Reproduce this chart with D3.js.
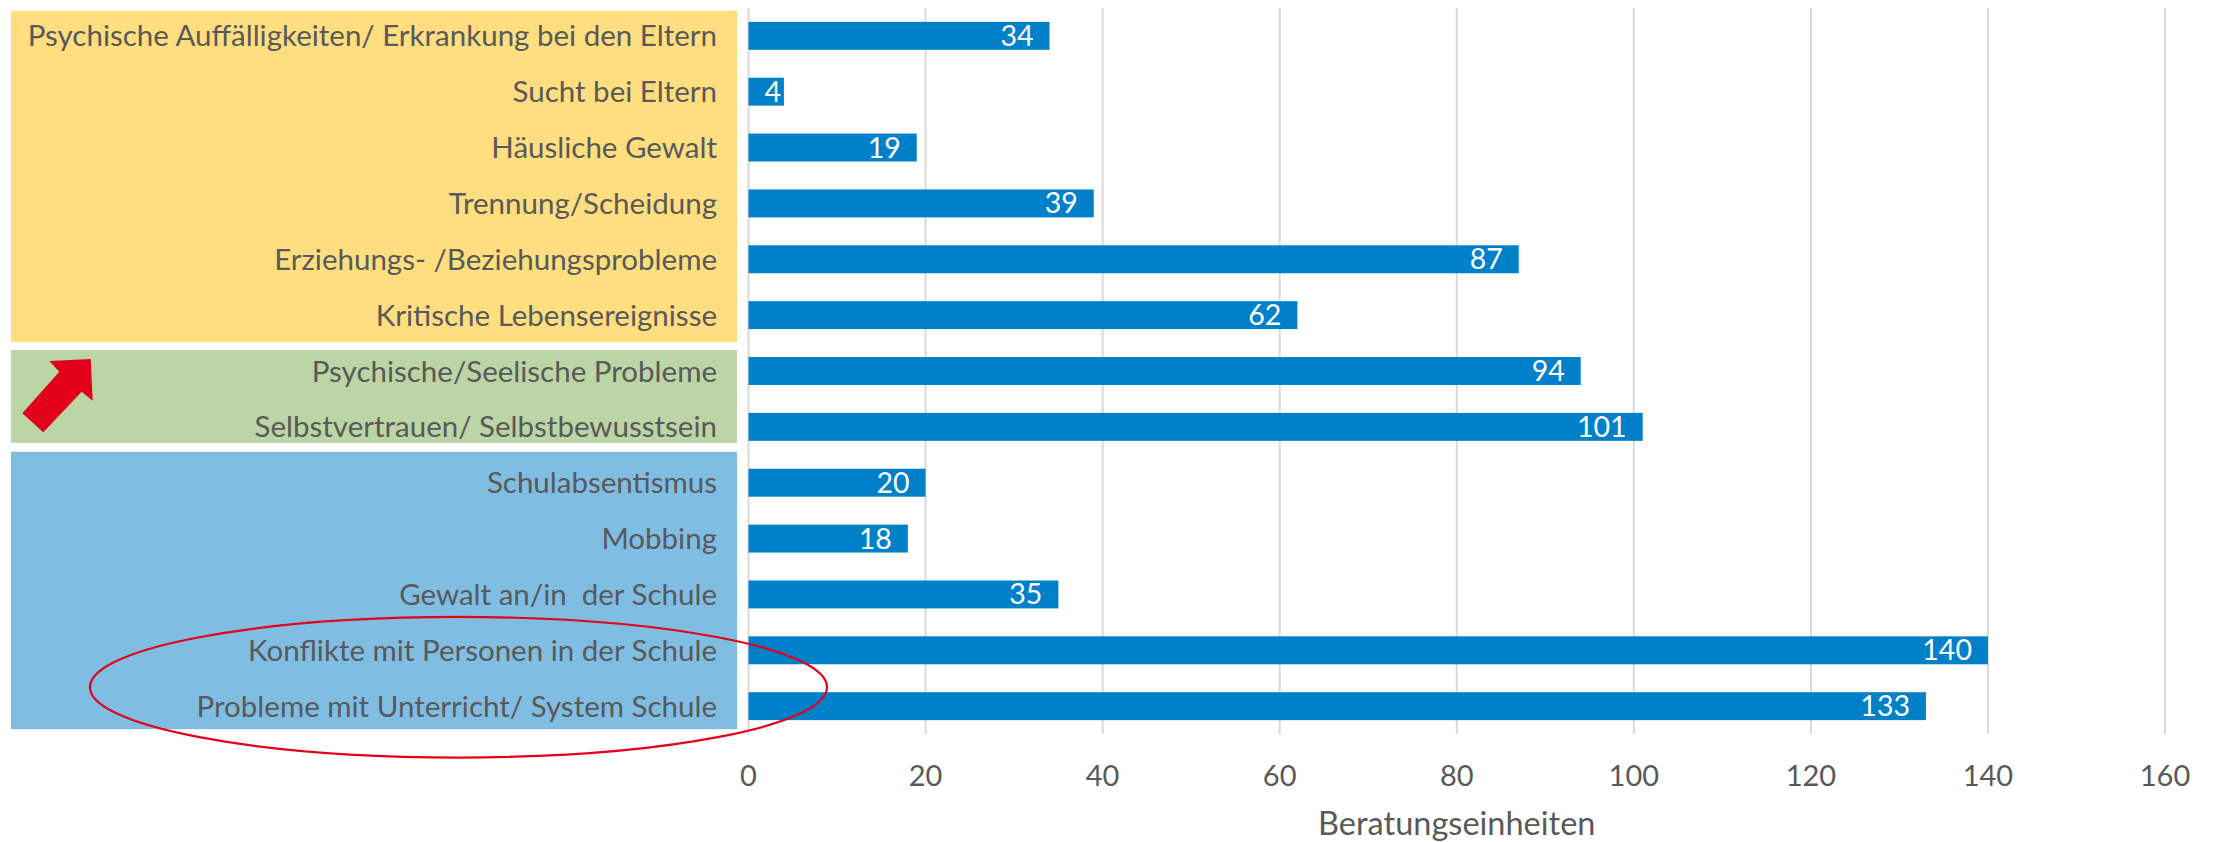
<!DOCTYPE html>
<html>
<head>
<meta charset="utf-8">
<script src="https://cdn.jsdelivr.net/npm/d3@7"></script>
<style>
  html, body { margin: 0; padding: 0; background: #fff; }
  svg { display: block; }
</style>
</head>
<body>
<div id="chart"></div>
<script>
// categories, top to bottom
const categories = [
    "Psychische Auffälligkeiten/ Erkrankung bei den Eltern",
    "Sucht bei Eltern",
    "Häusliche Gewalt",
    "Trennung/Scheidung",
    "Erziehungs- /Beziehungsprobleme",
    "Kritische Lebensereignisse",
    "Psychische/Seelische Probleme",
    "Selbstvertrauen/ Selbstbewusstsein",
    "Schulabsentismus",
    "Mobbing",
    "Gewalt an/in  der Schule",
    "Konflikte mit Personen in der Schule",
    "Probleme mit Unterricht/ System Schule"
];
const values = [34, 4, 19, 39, 87, 62, 94, 101, 20, 18, 35, 140, 133];
const xTicks = [0, 20, 40, 60, 80, 100, 120, 140, 160];
const axisTitle = "Beratungseinheiten";

// coloured groups behind the labels (first / last category index)
const groupFirst = [0, 6, 8];
const groupLast = [5, 7, 12];

const width = 2214;
const height = 842;
const font = "Lato, 'Open Sans', sans-serif";
const textColor = "#595959";
const barColor = "#0080C8";
const groupColors = ["#FFDE80", "#BBD5A5", "#7FBDE3"];
const groupPadTop = [11, 7, 17];
const groupPadBottom = [13, 2, 9];

const x = d3.scaleLinear()
    .domain([0, 160])
    .range([748.5, 2165]);

const y = d3.scaleBand()
    .domain(categories)
    .range([7.9, 734.1])
    .paddingInner(0.5)
    .paddingOuter(0.25);

const svg = d3.select("#chart").append("svg")
    .attr("width", width)
    .attr("height", height)
    .style("font-family", font);

// group boxes
svg.append("g")
    .selectAll("rect")
    .data(groupFirst)
    .join("rect")
    .attr("x", 11)
    .attr("width", 726)
    .attr("y", (d, i) => y(categories[d]) - groupPadTop[i])
    .attr("height", (d, i) => y(categories[groupLast[i]]) + y.bandwidth() + groupPadBottom[i] - y(categories[d]) + groupPadTop[i])
    .attr("fill", (d, i) => groupColors[i]);

// gridlines (the 0 line is the axis)
svg.append("g")
    .selectAll("line")
    .data(xTicks)
    .join("line")
    .attr("x1", d => x(d))
    .attr("x2", d => x(d))
    .attr("y1", y.range()[0])
    .attr("y2", y.range()[1])
    .attr("stroke", "#D9D9D9")
    .attr("stroke-width", 2);

// tick labels
svg.append("g")
    .selectAll("text")
    .data(xTicks)
    .join("text")
    .attr("x", d => x(d))
    .attr("y", 786)
    .attr("text-anchor", "middle")
    .attr("fill", textColor)
    .style("font-size", "29px")
    .text(d => d);

svg.append("text")
    .attr("x", (x.range()[0] + x.range()[1]) / 2)
    .attr("y", 835)
    .attr("text-anchor", "middle")
    .attr("fill", textColor)
    .style("font-size", "32.5px")
    .text(axisTitle);

// category labels
svg.append("g")
    .selectAll("text")
    .data(categories)
    .join("text")
    .attr("x", 717)
    .attr("y", d => y(d) + y.bandwidth() / 2 + 10.5)
    .attr("text-anchor", "end")
    .attr("fill", textColor)
    .style("font-size", "29.5px")
    .style("white-space", "pre")
    .text(d => d);

// bars
svg.append("g")
    .selectAll("rect")
    .data(values)
    .join("rect")
    .attr("x", x(0))
    .attr("y", (d, i) => y(categories[i]))
    .attr("width", d => x(d) - x(0))
    .attr("height", y.bandwidth())
    .attr("fill", barColor);

// value labels, inside end of the bar
const labels = svg.append("g")
    .selectAll("text")
    .data(values)
    .join("text")
    .attr("y", (d, i) => y(categories[i]) + y.bandwidth() / 2 + 10)
    .attr("text-anchor", "end")
    .attr("fill", "#fff")
    .style("font-size", "28.5px")
    .text(d => d);
labels.attr("x", function(d) {
    const w = this.getComputedTextLength();
    return Math.max(x(d) - 16, x(0) + 16 + w);
});

// annotations: red arrow in the green box, ellipse round the last two rows
const green = y(categories[groupFirst[1]]) - groupPadTop[1];
const arrow = [[49.3, 11], [90.7, 9], [92.7, 50.7], [81.7, 41.7], [43.3, 82.3], [22.3, 63.3], [59.3, 21.7]];
svg.append("polygon")
    .attr("points", arrow.map(p => [p[0], p[1] + green].join(",")).join(" "))
    .attr("fill", "#E3001B");

const a = categories[categories.length - 2];
const b = categories[categories.length - 1];
svg.append("ellipse")
    .attr("cx", 458.5)
    .attr("cy", (y(a) + y(b) + y.bandwidth()) / 2 + 9)
    .attr("rx", 368.5)
    .attr("ry", 70.3)
    .attr("fill", "none")
    .attr("stroke", "#E3001B")
    .attr("stroke-width", 2.2);
</script>
</body>
</html>
